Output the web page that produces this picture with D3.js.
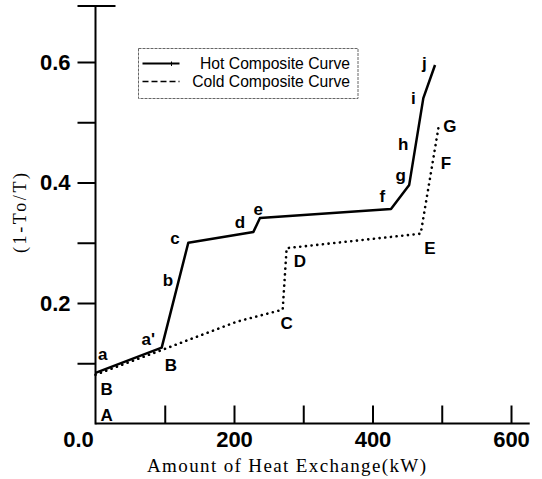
<!DOCTYPE html>
<html lang="en">
<head>
  <meta charset="utf-8">
  <title>Composite Curves</title>
  <script src="https://d3js.org/d3.v7.min.js"></script>
  <style>
    body { margin: 0; background: #fff; }
    .tick text { font-family: "Liberation Sans", Arial, sans-serif; font-weight: bold; font-size: 22px; fill: #000; }
    .tick line { stroke: #000; stroke-width: 2; }
    .pt-label { font-family: "Liberation Sans", Arial, sans-serif; font-weight: bold; font-size: 17px; fill: #000; }
    .legend-text { font-family: "Liberation Sans", Arial, sans-serif; font-size: 15.7px; fill: #000; }
    .axis-title { font-family: "Liberation Serif", "Times New Roman", serif; font-size: 19px; fill: #000; }
  </style>
</head>
<body>
<script>
  // hot composite curve (kW, 1-To/T)
  const hotX = [0, 95.6, 134, 228, 237.5, 426.7, 453, 473.4, 490.3];
  const hotY = [0.084, 0.126, 0.300, 0.318, 0.341, 0.356, 0.396, 0.540, 0.595];

  // cold composite curve
  const coldX = [0, 98, 204, 270.3, 276, 469.6, 496];
  const coldY = [0.081, 0.123, 0.169, 0.189, 0.291, 0.315, 0.496];

  // point letters
  const letterText = ["a", "a'", "b", "c", "d", "e", "f", "g", "h", "i", "j", "A", "B", "B", "C", "D", "E", "F", "G"];
  const letterX = [10.4, 76.2, 104.7, 114.8, 208.7, 235.1, 414.2, 440.7, 444.5, 458.9, 474.8, 16.2, 16.2, 109, 276.1, 295.3, 483, 506.1, 511.9];
  const letterY = [0.115, 0.140, 0.238, 0.308, 0.335, 0.356, 0.377, 0.413, 0.463, 0.540, 0.598, 0.014, 0.057, 0.097, 0.167, 0.269, 0.292, 0.432, 0.494];

  // ticks
  const xTicks = [100, 200, 300, 400, 500, 600];
  const xTickLabels = [200, 400, 600];
  const yTicks = [0.1, 0.2, 0.3, 0.4, 0.5, 0.6];
  const yTickLabels = [0.2, 0.4, 0.6];

  const legendNames = ["Hot Composite Curve", "Cold Composite Curve"];

  const width = 542, height = 479;
  const svg = d3.select("body").append("svg")
    .attr("width", width)
    .attr("height", height);

  const x = d3.scaleLinear().domain([0, 600]).range([95.5, 511]);
  const y = d3.scaleLinear().domain([0, 0.6]).range([423.5, 62]);

  // x axis, ticks point inward
  const xAxis = svg.append("g")
    .attr("transform", "translate(0," + y(0) + ")")
    .call(d3.axisBottom(x)
      .tickValues(xTicks)
      .tickSizeInner(-18)
      .tickSizeOuter(0)
      .tickPadding(8)
      .tickFormat(d => xTickLabels.includes(d) ? d : ""));
  xAxis.select(".domain").remove();

  // y axis, ticks point outward
  const yAxis = svg.append("g")
    .attr("transform", "translate(" + x(0) + ",0)")
    .call(d3.axisLeft(y)
      .tickValues(yTicks)
      .tickSize(18)
      .tickPadding(7)
      .tickFormat(d => yTickLabels.includes(d) ? d3.format(".1f")(d) : ""));
  yAxis.select(".domain").remove();

  // axis lines (run past the last tick)
  svg.append("line")
    .attr("x1", x(0)).attr("y1", y(0))
    .attr("x2", x(627)).attr("y2", y(0))
    .attr("stroke", "#000").attr("stroke-width", 2);
  svg.append("line")
    .attr("x1", x(0)).attr("y1", y(0) + 1)
    .attr("x2", x(0)).attr("y2", y(0.693))
    .attr("stroke", "#000").attr("stroke-width", 2);
  // cap at the top of the y axis
  svg.append("line")
    .attr("x1", x(0) - 18).attr("y1", y(0.693))
    .attr("x2", x(0) + 20).attr("y2", y(0.693))
    .attr("stroke", "#000").attr("stroke-width", 2);

  // shared origin label
  svg.append("text")
    .attr("class", "tick-zero")
    .attr("x", x(0) - 17)
    .attr("y", y(0) + 8)
    .attr("dy", "0.71em")
    .attr("text-anchor", "middle")
    .style("font-family", "Liberation Sans, Arial, sans-serif")
    .style("font-weight", "bold")
    .style("font-size", "22px")
    .text("0.0");

  // curves
  const line = d3.line()
    .x(d => x(d[0]))
    .y(d => y(d[1]));

  svg.append("path")
    .datum(hotX.map((v, i) => [v, hotY[i]]))
    .attr("d", line)
    .attr("fill", "none")
    .attr("stroke", "#000")
    .attr("stroke-width", 2.5)
    .attr("stroke-linejoin", "round");

  svg.append("path")
    .datum(coldX.map((v, i) => [v, coldY[i]]))
    .attr("d", line)
    .attr("fill", "none")
    .attr("stroke", "#000")
    .attr("stroke-width", 2.6)
    .attr("stroke-linecap", "round")
    .attr("stroke-dasharray", "0.1,5.6");

  // letters
  svg.selectAll(".pt-label")
    .data(letterText)
    .enter().append("text")
    .attr("class", "pt-label")
    .attr("x", (d, i) => x(letterX[i]))
    .attr("y", (d, i) => y(letterY[i]))
    .attr("dy", "0.35em")
    .attr("text-anchor", "middle")
    .text(d => d);

  // legend
  const lg = svg.append("g");
  lg.append("rect")
    .attr("x", 138.5).attr("y", 48.5)
    .attr("width", 219.5).attr("height", 50)
    .attr("fill", "none")
    .attr("stroke", "#666")
    .attr("stroke-width", 1)
    .attr("stroke-dasharray", "3,1");
  lg.append("line")
    .attr("x1", 142.5).attr("y1", 63.5).attr("x2", 179.5).attr("y2", 63.5)
    .attr("stroke", "#000").attr("stroke-width", 2);
  lg.append("line")
    .attr("x1", 171.5).attr("y1", 61.5).attr("x2", 171.5).attr("y2", 66)
    .attr("stroke", "#000").attr("stroke-width", 1);
  lg.append("line")
    .attr("x1", 142.5).attr("y1", 81.5).attr("x2", 179.5).attr("y2", 81.5)
    .attr("stroke", "#000").attr("stroke-width", 1.6)
    .attr("stroke-dasharray", "6,3");
  lg.selectAll(".legend-text")
    .data(legendNames)
    .enter().append("text")
    .attr("class", "legend-text")
    .attr("x", 350)
    .attr("y", (d, i) => 68.5 + i * 18)
    .attr("text-anchor", "end")
    .text(d => d);

  // axis titles
  svg.append("text")
    .attr("class", "axis-title")
    .attr("x", 147)
    .attr("y", 471.5)
    .attr("textLength", 279)
    .attr("lengthAdjust", "spacing")
    .text("Amount of Heat Exchange(kW)");

  svg.append("text")
    .attr("class", "axis-title")
    .attr("transform", "translate(26,253) rotate(-90)")
    .attr("textLength", 80)
    .attr("lengthAdjust", "spacing")
    .style("font-size", "18px")
    .text("(1-To/T)");
</script>
</body>
</html>
